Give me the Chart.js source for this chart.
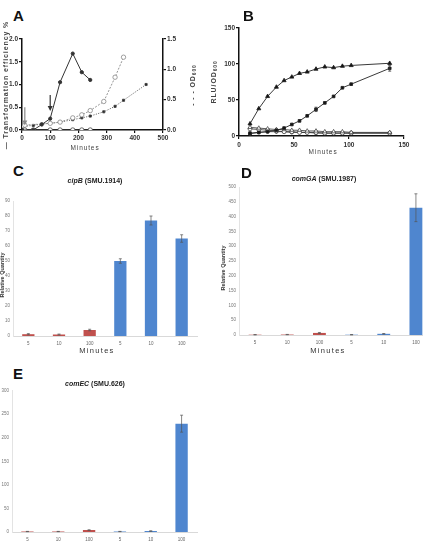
<!DOCTYPE html>
<html><head><meta charset="utf-8">
<script src="https://cdn.jsdelivr.net/npm/chart.js@4"></script>
<style>
html,body{margin:0;padding:0;width:423px;height:541px;overflow:hidden;background:#fff;font-family:"Liberation Sans",Arial,sans-serif;}
canvas{position:absolute;}
.t{position:absolute;white-space:nowrap;line-height:1;}
.letter{font-weight:bold;font-size:15px;line-height:15px;color:#111;}
.rot{transform:translate(-50%,-50%) rotate(-90deg);}
.ctr{transform:translate(-50%,-50%);}
.ax{font-weight:bold;font-size:7px;letter-spacing:0.9px;color:#444;}
.ttl{font-weight:bold;font-size:7px;color:#222;}
.rq{font-weight:bold;font-size:5.5px;color:#333;}
.min{font-size:7.5px;letter-spacing:1.3px;color:#333;}
sub{font-size:70%;vertical-align:-1px;}
</style></head><body>

<canvas id="cA" width="211" height="130" style="left:0px;top:30px"></canvas>
<canvas id="cB" width="212" height="145" style="left:211px;top:15px"></canvas>
<canvas id="cC" width="211" height="165" style="left:0px;top:195px"></canvas>
<canvas id="cD" width="230" height="180" style="left:211px;top:180px"></canvas>
<canvas id="cE" width="211" height="165" style="left:0px;top:385px"></canvas>

<div class="t letter" style="left:13px;top:8px">A</div>
<div class="t letter" style="left:243px;top:8px">B</div>
<div class="t letter" style="left:13px;top:163px">C</div>
<div class="t letter" style="left:241px;top:165px">D</div>
<div class="t letter" style="left:13px;top:366px">E</div>

<div class="t ax rot" style="left:5px;top:85px">— Transformation efficiency %</div>
<div class="t ax rot" style="left:193px;top:85px">- - - OD<sub>600</sub></div>
<div class="t ax ctr" style="left:85px;top:148px;font-weight:normal;font-size:6.5px">Minutes</div>

<div class="t ax rot" style="left:214px;top:82px">RLU/OD<sub>600</sub></div>
<div class="t ax ctr" style="left:323px;top:152px;font-weight:normal;font-size:6.5px">Minutes</div>

<div class="t ttl ctr" style="left:95px;top:180px"><i>cipB</i> (SMU.1914)</div>
<div class="t rq rot" style="left:3px;top:275px">Relative Quantity</div>
<div class="t min ctr" style="left:97px;top:351px">Minutes</div>

<div class="t ttl ctr" style="left:324px;top:178px"><i>comGA</i> (SMU.1987)</div>
<div class="t rq rot" style="left:224px;top:268px">Relative Quantity</div>
<div class="t min ctr" style="left:328px;top:351px">Minutes</div>

<div class="t ttl ctr" style="left:95px;top:383px"><i>comEC</i> (SMU.626)</div>

<script>
// ---------- Panel A data ----------
const aTimeTE   = [0, 40, 70, 100, 135, 180, 212, 242];
const aTE       = [0.0, 0.0, 0.12, 0.25, 1.05, 1.68, 1.27, 1.1];
const aTimeTE0  = [0, 10, 40, 100, 135, 180, 212, 242];
const aTE0      = [0, 0, 0, 0, 0, 0, 0, 0];
const aTimeOD1  = [0, 10, 100, 135, 180, 212, 242, 290, 330, 360];
const aOD1      = [0.05, 0.08, 0.11, 0.13, 0.2, 0.25, 0.32, 0.47, 0.87, 1.2];
const aTimeOD2  = [0, 40, 70, 100, 135, 180, 212, 242, 290, 330, 360, 440];
const aOD2      = [0.06, 0.075, 0.1, 0.11, 0.13, 0.17, 0.2, 0.23, 0.3, 0.39, 0.49, 0.75];
const aArrowX   = [10, 100];
const aArrowTop = [0.5, 0.77];
const aArrowTip = [0.1, 0.42];

// ---------- Panel B data ----------
const bTime = [10, 18, 26, 34, 41, 48, 55, 62, 70, 78, 86, 94, 102, 137];
const bS1   = [17, 38, 55, 68, 77, 82, 87, 89, 93, 96, 95, 97, 98, 101];
const bS2   = [4, 5, 6, 8, 11, 16, 21, 28, 37, 46, 55, 67, 72, 94];
const bS2err= [0, 0, 0, 0, 0, 0, 0, 0, 3, 0, 0, 0, 0, 4];
const bS3   = [12, 11, 10, 9, 9, 8, 8, 7, 7, 6, 6, 6, 5, 5];
const bS4   = [10, 9, 8, 7, 6, 6, 5, 5, 5, 4, 4, 4, 4, 4];
const bS5   = [3, 5, 6, 6, 6, 5, 5, 5, 4, 4, 4, 4, 4, 4];

// ---------- Bar panels ----------
const barLabels = ["5", "10", "100", "5", "10", "100"];
const cValues = [1.2, 1, 4, 50, 77, 65];
const cErrors = [0.4, 0.3, 0.5, 1.5, 3, 2.5];
const dValues = [1, 1.5, 7, 1, 4, 430];
const dErrors = [0.5, 0.5, 1.5, 0.5, 1, 47];
const eValues = [1, 1, 4, 1, 2, 230];
const eErrors = [0.3, 0.3, 0.8, 0.3, 0.6, 18];

const RED = '#c0504d', BLUE = '#4f86cf';
const barColors = [RED, RED, RED, BLUE, BLUE, BLUE];

const pts = (xs, ys) => xs.map((x, i) => ({x: x, y: ys[i]}));

const errorBars = {
  id: 'errorBars',
  afterDatasetsDraw(chart) {
    const {ctx, scales} = chart;
    chart.data.datasets.forEach((ds, i) => {
      if (!ds.errors) return;
      const meta = chart.getDatasetMeta(i);
      const ys = scales[meta.yAxisID];
      meta.data.forEach((el, j) => {
        const e = ds.errors[j];
        if (!e) return;
        const v = typeof ds.data[j] === 'object' ? ds.data[j].y : ds.data[j];
        const yt = ys.getPixelForValue(v + e), yb = ys.getPixelForValue(v - e);
        ctx.save();
        ctx.strokeStyle = ds.errColor || '#333';
        ctx.lineWidth = 0.7;
        ctx.beginPath();
        ctx.moveTo(el.x, yt); ctx.lineTo(el.x, yb);
        ctx.moveTo(el.x - 1.5, yt); ctx.lineTo(el.x + 1.5, yt);
        ctx.moveTo(el.x - 1.5, yb); ctx.lineTo(el.x + 1.5, yb);
        ctx.stroke();
        ctx.restore();
      });
    });
  }
};

const arrowColors = ['#888', '#333'];
const arrows = {
  id: 'arrows',
  afterDatasetsDraw(chart) {
    const {ctx, scales: {x, y}} = chart;
    aArrowX.forEach((xv, i) => {
      const px = x.getPixelForValue(xv);
      const y0 = y.getPixelForValue(aArrowTop[i]);
      const y1 = y.getPixelForValue(aArrowTip[i]);
      ctx.save();
      ctx.strokeStyle = arrowColors[i]; ctx.fillStyle = arrowColors[i];
      ctx.lineWidth = 1.2;
      ctx.beginPath(); ctx.moveTo(px, y0); ctx.lineTo(px, y1 - 4); ctx.stroke();
      ctx.beginPath(); ctx.moveTo(px - 2.5, y1 - 5); ctx.lineTo(px + 2.5, y1 - 5); ctx.lineTo(px, y1); ctx.closePath(); ctx.fill();
      ctx.restore();
    });
  }
};

const tickFontBold = {family: '"Liberation Sans", Arial, sans-serif', size: 6.5, weight: 'bold'};
const axisLine = {color: '#111', width: 1.5};
const tickGrid = {drawOnChartArea: false, drawTicks: true, tickLength: 3, color: '#111', lineWidth: 1.2};

// ---------- Chart A ----------
new Chart(document.getElementById('cA'), {
  type: 'line',
  data: {
    datasets: [
      {data: pts(aTimeTE, aTE), yAxisID: 'y', borderColor: '#333', borderWidth: 1, backgroundColor: '#333', pointRadius: 1.6, pointStyle: 'circle'},
      {data: pts(aTimeTE0, aTE0), yAxisID: 'y', borderColor: '#444', borderWidth: 1, backgroundColor: '#fff', pointBorderColor: '#444', pointRadius: 2.2, pointBorderWidth: 0.8},
      {data: pts(aTimeOD1, aOD1), yAxisID: 'y1', borderColor: '#888', borderWidth: 0.9, borderDash: [2, 1.5], backgroundColor: '#fff', pointBorderColor: '#888', pointRadius: 2.2, pointBorderWidth: 0.8},
      {data: pts(aTimeOD2, aOD2), yAxisID: 'y1', borderColor: '#444', borderWidth: 0.9, borderDash: [1, 1.5], backgroundColor: '#222', pointRadius: 1.5, pointStyle: 'rect'}
    ]
  },
  options: {
    responsive: false, animation: false,
    layout: {padding: {top: 9, left: 0, right: 0, bottom: 0}},
    plugins: {legend: {display: false}, tooltip: {enabled: false}},
    scales: {
      x: {type: 'linear', min: 0, max: 500, border: axisLine, grid: tickGrid,
          ticks: {stepSize: 100, font: tickFontBold, color: '#333', padding: 1, maxRotation: 0},
          afterFit: s => { s.height = 30; }},
      y: {position: 'left', min: 0, max: 2, border: axisLine, grid: tickGrid,
          ticks: {stepSize: 0.5, font: tickFontBold, color: '#333', padding: 1, callback: v => v.toFixed(1)},
          afterFit: s => { s.width = 22; }},
      y1: {position: 'right', min: 0, max: 1.5, border: axisLine, grid: tickGrid,
          ticks: {stepSize: 0.5, font: tickFontBold, color: '#333', padding: 1, callback: v => v.toFixed(1)},
          afterFit: s => { s.width = 48; }}
    }
  },
  plugins: [arrows]
});

// ---------- Chart B ----------
new Chart(document.getElementById('cB'), {
  type: 'line',
  data: {
    datasets: [
      {data: pts(bTime, bS1), borderColor: '#222', borderWidth: 0.9, backgroundColor: '#111', pointStyle: 'triangle', pointRadius: 2.3},
      {data: pts(bTime, bS2), errors: bS2err, borderColor: '#222', borderWidth: 0.9, backgroundColor: '#111', pointStyle: 'rect', pointRadius: 1.9},
      {data: pts(bTime, bS3), borderColor: '#333', borderWidth: 0.8, backgroundColor: '#fff', pointBorderColor: '#333', pointStyle: 'triangle', pointRadius: 2.3, pointBorderWidth: 0.7},
      {data: pts(bTime, bS4), borderColor: '#333', borderWidth: 0.8, backgroundColor: '#fff', pointBorderColor: '#333', pointStyle: 'circle', pointRadius: 2, pointBorderWidth: 0.7},
      {data: pts(bTime, bS5), borderColor: '#333', borderWidth: 0.8, backgroundColor: '#222', pointStyle: 'circle', pointRadius: 1.6}
    ]
  },
  options: {
    responsive: false, animation: false,
    layout: {padding: {top: 13, left: 0, right: 19, bottom: 0}},
    plugins: {legend: {display: false}, tooltip: {enabled: false}},
    scales: {
      x: {type: 'linear', min: 0, max: 150, border: axisLine, grid: tickGrid,
          ticks: {stepSize: 50, font: tickFontBold, color: '#333', padding: 2, maxRotation: 0},
          afterFit: s => { s.height = 24; }},
      y: {min: 0, max: 150, border: axisLine, grid: tickGrid,
          ticks: {stepSize: 50, font: tickFontBold, color: '#333', padding: 1},
          afterFit: s => { s.width = 28; }}
    }
  },
  plugins: [errorBars]
});

// ---------- Bar charts ----------
function barChart(id, values, errors, max, step, pad, yWidth, xHeight) {
  const tickFont = {family: '"Liberation Sans", Arial, sans-serif', size: 4.5};
  return new Chart(document.getElementById(id), {
    type: 'bar',
    data: {labels: barLabels, datasets: [{data: values, errors: errors, errColor: '#555', backgroundColor: barColors,
      categoryPercentage: 1, barPercentage: 0.4}]},
    options: {
      responsive: false, animation: false,
      layout: {padding: pad},
      plugins: {legend: {display: false}, tooltip: {enabled: false}},
      scales: {
        x: {border: {color: '#d9d9d9', width: 1}, grid: {display: false, drawTicks: false},
            ticks: {font: tickFont, color: '#666', padding: 5, maxRotation: 0},
            afterFit: s => { s.height = xHeight; }},
        y: {min: 0, max: max, border: {color: '#e3e3e3', width: 1}, grid: {display: false, drawTicks: false},
            ticks: {stepSize: step, font: tickFont, color: '#777', padding: 3},
            afterFit: s => { s.width = yWidth; }}
      }
    },
    plugins: [errorBars]
  });
}
barChart('cC', cValues, cErrors, 90, 10, {top: 6, left: 0, right: 14, bottom: 0}, 13, 24);
barChart('cD', dValues, dErrors, 500, 50, {top: 7, left: 0, right: 9, bottom: 0}, 28, 25);
barChart('cE', eValues, eErrors, 300, 50, {top: 5, left: 0, right: 14, bottom: 0}, 12, 18);
</script>
</body></html>
